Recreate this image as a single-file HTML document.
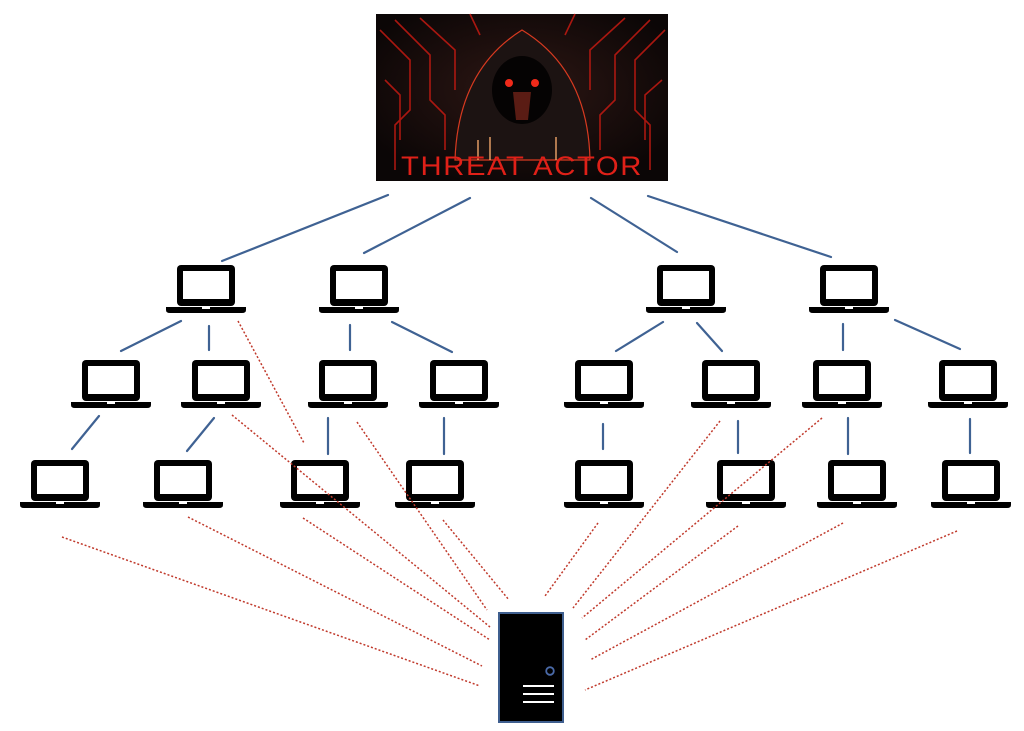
<!DOCTYPE html>
<html><head><meta charset="utf-8"><style>
html,body{margin:0;padding:0;background:#fff;width:1024px;height:731px;overflow:hidden}
</style></head><body>
<svg width="1024" height="731" viewBox="0 0 1024 731" xmlns="http://www.w3.org/2000/svg">
<defs>
<g id="lap">
<rect x="-29" y="0" width="58" height="41" rx="4" fill="#000"/>
<rect x="-23" y="6" width="46" height="28" fill="#fff"/>
<path d="M-40 42 H40 V45 Q40 48 36 48 H-36 Q-40 48 -40 45 Z" fill="#000"/>
<rect x="-4" y="42" width="8" height="2" fill="#fff"/>
</g>
<radialGradient id="glow" cx="50%" cy="45%" r="60%">
<stop offset="0" stop-color="#2e1714"/><stop offset="1" stop-color="#0b0606"/>
</radialGradient>
</defs>

<!-- threat actor image -->
<g>
<rect x="376" y="14" width="292" height="167" fill="url(#glow)"/>
<g stroke="#c41a12" stroke-width="1.6" fill="none" opacity="0.85">
<path d="M380 30 L410 60 L410 110 L395 125 L395 170"/>
<path d="M395 20 L430 55 L430 100 L445 115 L445 150"/>
<path d="M420 18 L455 50 L455 90"/>
<path d="M385 80 L400 95 L400 140"/>
<path d="M665 30 L635 60 L635 110 L650 125 L650 170"/>
<path d="M650 20 L615 55 L615 100 L600 115 L600 150"/>
<path d="M625 18 L590 50 L590 90"/>
<path d="M662 80 L645 95 L645 140"/>
<path d="M470 14 L480 35 M575 14 L565 35"/>
</g>
<path d="M455 160 Q458 70 522 30 Q588 70 590 160 Z" fill="#1c1312" stroke="#d83a20" stroke-width="1.2"/>
<ellipse cx="522" cy="90" rx="30" ry="34" fill="#050303"/>
<circle cx="509" cy="83" r="4" fill="#f02a1a"/>
<circle cx="535" cy="83" r="4" fill="#f02a1a"/>
<path d="M513 92 H531 L528 120 H516 Z" fill="#5a1c14"/>
<g stroke="#ffb070" stroke-width="1.3"><path d="M478 140 V160 M490 137 V160 M556 137 V160"/></g>
<text x="522" y="175" text-anchor="middle" font-family="'Liberation Sans',sans-serif" font-size="27" fill="#e02018" letter-spacing="1.5" textLength="242" lengthAdjust="spacingAndGlyphs">THREAT ACTOR</text>
</g>

<!-- blue links -->
<g stroke="#3f6293" stroke-width="2.2" stroke-linecap="round">
<line x1="388" y1="195" x2="222" y2="261"/>
<line x1="470" y1="198" x2="364" y2="253"/>
<line x1="591" y1="198" x2="677" y2="252"/>
<line x1="648" y1="196" x2="831" y2="257"/>
<line x1="181" y1="321" x2="121" y2="351"/>
<line x1="209" y1="326" x2="209" y2="350"/>
<line x1="350" y1="325" x2="350" y2="350"/>
<line x1="392" y1="322" x2="452" y2="352"/>
<line x1="663" y1="322" x2="616" y2="351"/>
<line x1="697" y1="323" x2="722" y2="351"/>
<line x1="843" y1="324" x2="843" y2="350"/>
<line x1="895" y1="320" x2="960" y2="349"/>
<line x1="99" y1="416" x2="72" y2="449"/>
<line x1="214" y1="418" x2="187" y2="451"/>
<line x1="328" y1="418" x2="328" y2="454"/>
<line x1="444" y1="418" x2="444" y2="454"/>
<line x1="603" y1="424" x2="603" y2="449"/>
<line x1="738" y1="421" x2="738" y2="453"/>
<line x1="848" y1="418" x2="848" y2="454"/>
<line x1="970" y1="419" x2="970" y2="453"/>
</g>

<!-- laptops -->
<use href="#lap" x="206" y="265"/>
<use href="#lap" x="359" y="265"/>
<use href="#lap" x="686" y="265"/>
<use href="#lap" x="849" y="265"/>
<use href="#lap" x="111" y="360"/>
<use href="#lap" x="221" y="360"/>
<use href="#lap" x="348" y="360"/>
<use href="#lap" x="459" y="360"/>
<use href="#lap" x="604" y="360"/>
<use href="#lap" x="731" y="360"/>
<use href="#lap" x="842" y="360"/>
<use href="#lap" x="968" y="360"/>
<use href="#lap" x="60" y="460"/>
<use href="#lap" x="183" y="460"/>
<use href="#lap" x="320" y="460"/>
<use href="#lap" x="435" y="460"/>
<use href="#lap" x="604" y="460"/>
<use href="#lap" x="746" y="460"/>
<use href="#lap" x="857" y="460"/>
<use href="#lap" x="971" y="460"/>

<!-- red dotted links (drawn over laptops) -->
<g stroke="#c0392b" stroke-width="1.5" stroke-dasharray="2 2" fill="none">
<line x1="62" y1="537" x2="480" y2="686"/>
<line x1="188" y1="517" x2="482" y2="666"/>
<line x1="303" y1="518" x2="490" y2="640"/>
<line x1="232" y1="415" x2="490" y2="627"/>
<line x1="238" y1="321" x2="304" y2="443"/>
<line x1="357" y1="422" x2="487" y2="610"/>
<line x1="443" y1="520" x2="509" y2="600"/>
<line x1="598" y1="523" x2="545" y2="596"/>
<line x1="720" y1="421" x2="573" y2="608"/>
<line x1="822" y1="418" x2="582" y2="618"/>
<line x1="738" y1="526" x2="585" y2="640"/>
<line x1="843" y1="523" x2="590" y2="660"/>
<line x1="957" y1="531" x2="585" y2="690"/>
</g>

<!-- server -->
<rect x="499" y="613" width="64" height="109" fill="#000" stroke="#3f5f8f" stroke-width="2"/>
<circle cx="550" cy="671" r="3.8" fill="none" stroke="#4a6aa8" stroke-width="1.8"/>
<g stroke="#fff" stroke-width="2"><line x1="523" y1="686" x2="554" y2="686"/><line x1="523" y1="694" x2="554" y2="694"/><line x1="523" y1="702" x2="554" y2="702"/></g>
</svg>
</body></html>
